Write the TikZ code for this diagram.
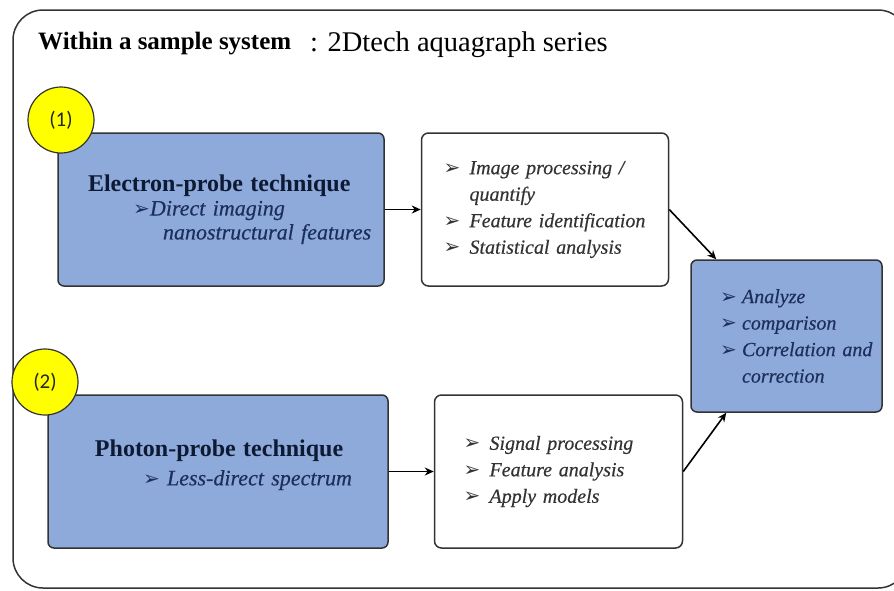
\documentclass[tikz,border=0pt]{standalone}
\usepackage{fontspec}
\setmainfont{Liberation Serif}[ItalicFeatures={FakeBold=0.4}]
\newfontfamily\arrfont{DejaVu Sans}
\newfontfamily\numfont{Carlito}
\usetikzlibrary{arrows.meta, positioning}
\definecolor{probeblue}{HTML}{8EAADB}
\definecolor{edge}{HTML}{333333}
\definecolor{navy}{HTML}{1C2F5A}
\definecolor{deepnavy}{HTML}{0E1A33}
\definecolor{inkgrey}{HTML}{333333}
\definecolor{marker}{HTML}{FFFF00}
\newcommand{\bul}[1][26pt]{\makebox[#1][l]{\upshape\arrfont\fontsize{20}{20}\selectfont ➢}}
\newcommand{\ind}[1]{\hspace*{#1pt}}
\newcommand{\hdfont}{\upshape\bfseries\fontsize{24}{24}\selectfont\color{deepnavy}}

\begin{document}
\begin{tikzpicture}[x=1pt, y=-1pt,
      probe/.style={rectangle, draw=edge, line width=1.5pt, fill=probeblue,
                    rounded corners=6pt, minimum height=153pt, align=left,
                    inner xsep=0pt, inner ysep=0pt, text=navy,
                    font=\itshape\fontsize{22}{24}\selectfont},
      task/.style={rectangle, draw=edge, line width=1.5pt, fill=white,
                   rounded corners=7pt, minimum height=153pt, align=left,
                   inner xsep=0pt, inner ysep=0pt, text=inkgrey,
                   font=\itshape\fontsize{20}{26.5}\selectfont},
      tag/.style={circle, draw=edge, line width=1.2pt, fill=marker,
                  minimum size=66pt, inner sep=0pt, text=black!85,
                  font=\numfont\fontsize{21}{21}\selectfont},
      arr/.style={-{Stealth[length=9pt, width=8pt]}, line width=1.6pt, black}
    ]
    \useasboundingbox (0,0) rectangle (894,590);

    % outer frame and title
    \draw[line width=1.5pt, draw=edge, rounded corners=30pt] (13,10) rectangle (908,588);
    \node[anchor=base west, inner sep=0pt, font=\bfseries\fontsize{25}{25}\selectfont]
      (title) at (38,49) {Within a sample system};
    \node[anchor=base west, inner sep=0pt, font=\fontsize{28.5}{28.5}\selectfont]
      (series) at (310,51) {: 2Dtech aquagraph series};

    % (1) electron probe
    \node[probe, text width=326pt] (elec) at (221,209.5)
      {\ind{30}{\hdfont Electron-probe technique}\\
       \ind{75}\bul[17pt]Direct imaging\\
       \ind{105}nanostructural features};
    \node[task, text width=247pt, right=36pt of elec] (imgproc)
      {\ind{22}\bul Image processing /\\
       \ind{48}quantify\\
       \ind{22}\bul Feature identification\\
       \ind{22}\bul Statistical analysis};

    % (2) photon probe
    \node[probe, text width=340pt] (photon) at (218,471.5)
      {\ind{47}{\hdfont Photon-probe technique}\\[5pt]
       \ind{95}\bul[24pt]Less-direct spectrum\\[-6pt]\mbox{}};
    \node[task, text width=248pt, right=45pt of photon] (sigproc)
      {\ind{29}\bul Signal processing\\
       \ind{29}\bul Feature analysis\\
       \ind{29}\bul Apply models};

    % combined analysis
    \node[probe, text width=191pt, minimum height=152pt,
          font=\itshape\fontsize{20}{26.5}\selectfont] (analyze) at (786.5,336)
      {\ind{29}\bul[22pt]Analyze\\
       \ind{29}\bul[22pt]comparison\\
       \ind{29}\bul[22pt]Correlation and\\
       \ind{51}correction};

    \node[tag] (one) at (61,120) {(1)};
    \node[tag] (two) at (45,382) {(2)};

    \draw[arr] (elec) -- (imgproc);
    \draw[arr] (photon) -- (sigproc);
    \draw[arr] (imgproc.east) -- ([xshift=26pt]analyze.north west);
    \draw[arr] (sigproc.east) -- ([xshift=36pt]analyze.south west);
  \end{tikzpicture}
\end{document}
